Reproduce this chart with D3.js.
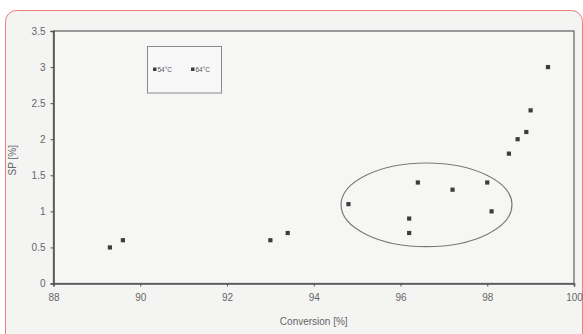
<!DOCTYPE html>
<html>
<head>
<meta charset="utf-8">
<script src="https://cdn.jsdelivr.net/npm/d3@7"></script>
<style>
    body { margin: 0; background: #ffffff; }
    svg { display: block; font-family: "Liberation Sans", Arial, sans-serif; }
    .axis path, .axis line { stroke: #555; }
    .axis text { fill: #666; font-size: 10px; }
</style>
</head>
<body>
<div id="chart"></div>
<script>
// 数据
var seriesNames = ['54°C', '64°C'];
var conv54 = [89.3, 89.6, 93.0, 93.4, 98.1, 98.5, 98.7, 98.9, 99.0, 99.4];
var sp54   = [0.5, 0.6, 0.6, 0.7, 1.0, 1.8, 2.0, 2.1, 2.4, 3.0];
var conv64 = [94.8, 96.2, 96.2, 96.4, 97.2, 98.0];
var sp64   = [1.1, 0.9, 0.7, 1.4, 1.3, 1.4];
var xTicks = [88, 90, 92, 94, 96, 98, 100];
var yTicks = [0, 0.5, 1, 1.5, 2, 2.5, 3, 3.5];
// circled group: centre and radii in data units
var ringCenter = [96.6, 1.09];
var ringRadius = [1.97, 0.58];

var w = 583, h = 334;
var margin = { top: 31, right: 9, bottom: 50.5, left: 53.5 };
var width = w - margin.left - margin.right;
var height = h - margin.top - margin.bottom;

var svg = d3.select('#chart').append('svg').attr('width', w).attr('height', h);

// outer frame
svg.append('rect')
    .attr('x', 5.5).attr('y', 10.5).attr('width', 577).attr('height', 340)
    .attr('rx', 11).attr('ry', 11)
    .attr('fill', '#f4f4f3').attr('stroke', '#f07a7a').attr('stroke-width', 1);

var g = svg.append('g').attr('transform', 'translate(' + margin.left + ',' + margin.top + ')');

var x = d3.scaleLinear().domain([88, 100]).range([0, width]);
var y = d3.scaleLinear().domain([0, 3.5]).range([height, 0]);

// plot frame
g.append('rect')
    .attr('x', 0).attr('y', 0).attr('width', width).attr('height', height)
    .attr('fill', '#f6f6f5').attr('stroke', '#6a6a6a').attr('stroke-width', 1.3);

var xAxis = d3.axisBottom(x).tickValues(xTicks).tickSize(3).tickPadding(7).tickFormat(d3.format('d'));
g.append('g').attr('class', 'axis x')
    .attr('transform', 'translate(0,' + height + ')')
    .call(xAxis)
    .call(function (s) { s.select('.domain').attr('stroke-width', 1.6).attr('stroke', '#444'); });

var yAxis = d3.axisLeft(y).tickValues(yTicks).tickSize(3).tickPadding(5)
    .tickFormat(function (d) { return String(d); });
g.append('g').attr('class', 'axis y')
    .call(yAxis)
    .call(function (s) { s.select('.domain').attr('stroke-width', 1.6).attr('stroke', '#555'); });

// axis titles
svg.append('text')
    .attr('x', margin.left + width / 2).attr('y', 325)
    .attr('text-anchor', 'middle').attr('fill', '#666').attr('font-size', 10)
    .text('Conversion [%]');
svg.append('text')
    .attr('transform', 'translate(16,' + (margin.top + height / 2 + 3) + ') rotate(-90)')
    .attr('text-anchor', 'middle').attr('fill', '#666').attr('font-size', 10)
    .text('SP [%]');

// ellipse
g.append('ellipse')
    .attr('cx', x(ringCenter[0])).attr('cy', y(ringCenter[1]))
    .attr('rx', x(ringCenter[0] + ringRadius[0]) - x(ringCenter[0]))
    .attr('ry', y(ringCenter[1]) - y(ringCenter[1] + ringRadius[1]))
    .attr('fill', 'none').attr('stroke', '#7a7a7a').attr('stroke-width', 1.2);

// points
var series = [
    { name: seriesNames[0], xs: conv54, ys: sp54 },
    { name: seriesNames[1], xs: conv64, ys: sp64 }
];
var s = 4.2;
series.forEach(function (ser) {
    var pts = ser.xs.map(function (v, i) { return { x: v, y: ser.ys[i] }; });
    g.append('g').selectAll('rect').data(pts).enter().append('rect')
        .attr('x', function (d) { return x(d.x) - s / 2; })
        .attr('y', function (d) { return y(d.y) - s / 2; })
        .attr('width', s).attr('height', s)
        .attr('fill', '#3d3d3d');
});

// legend
var legend = svg.append('g');
legend.append('rect')
    .attr('x', 147.5).attr('y', 46.5).attr('width', 74).attr('height', 46.5)
    .attr('fill', '#f8f8f8').attr('stroke', '#8a8a8a').attr('stroke-width', 1);
seriesNames.forEach(function (name, i) {
    var lx = 153 + i * 38;
    legend.append('rect')
        .attr('x', lx).attr('y', 67.5).attr('width', 3.5).attr('height', 3.5)
        .attr('fill', '#3d3d3d');
    legend.append('text')
        .attr('x', lx + 4.5).attr('y', 71.5)
        .attr('fill', '#555').attr('font-size', 6.5)
        .text(name);
});
</script>
</body>
</html>
